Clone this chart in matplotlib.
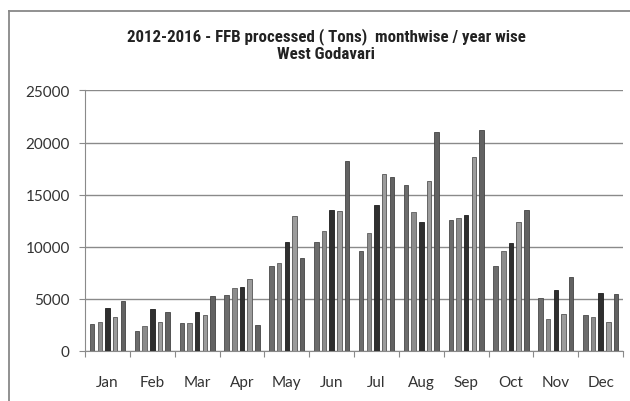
import numpy as np
import matplotlib.pyplot as plt
from matplotlib.lines import Line2D
from matplotlib import font_manager

# dades llegides del grafic (tones de FFB per mes i any)
months = ['Jan', 'Feb', 'Mar', 'Apr', 'May', 'Jun', 'Jul', 'Aug', 'Sep', 'Oct', 'Nov', 'Dec']
years = ['2012', '2013', '2014', '2015', '2016']
tons_2012 = [2600, 1950, 2690, 5350, 8140, 10480, 9580, 15900, 12560, 8200, 5130, 3430]
tons_2013 = [2760, 2370, 2690, 6030, 8490, 11470, 11310, 13300, 12720, 9550, 3040, 3270]
tons_2014 = [4100, 4000, 3750, 6120, 10420, 13490, 13970, 12340, 13010, 10320, 5900, 5540]
tons_2015 = [3270, 2790, 3430, 6920, 12950, 13430, 16960, 16350, 18620, 12370, 3530, 2790]
tons_2016 = [4800, 3780, 5290, 2530, 8880, 18270, 16730, 21060, 21250, 13560, 7080, 5480]

series = [tons_2012, tons_2013, tons_2014, tons_2015, tons_2016]
colors = ['#6c6c6c', '#8c8c8c', '#2f2f2f', '#9c9c9c', '#626262']
edges = ['#4a4a4a', '#5e5e5e', '#1e1e1e', '#555555', '#444444']

# font estreta per al titol si n'hi ha alguna
installed = {f.name for f in font_manager.fontManager.ttflist}
title_font = 'Liberation Sans'
title_size = 10.2
for cand in ['Liberation Sans Narrow', 'Roboto Condensed', 'Open Sans Condensed', 'DejaVu Sans Condensed']:
    if cand in installed:
        title_font = cand
        title_size = 12.2
        break

fig = plt.figure(figsize=(6.3, 4.02), dpi=100)
ax = fig.add_axes([0.135, 0.1244, 0.854, 0.648])

ind = np.arange(len(months))
width = 0.1
step = 0.171
for i, vals in enumerate(series):
    ax.bar(ind + (i - 2) * step, vals, width, color=colors[i], edgecolor=edges[i],
           linewidth=0.6, zorder=3)

ax.set_xlim(-0.5, 11.5)
ax.set_ylim(0, 25000)
ax.set_yticks(np.arange(0, 25001, 5000))
ax.grid(axis='y', color='#8a8a8a', linewidth=1.0, zorder=0)

# ticks entre mesos i etiquetes al centre
ax.set_xticks(np.arange(-0.5, 12, 1))
ax.set_xticklabels([])
ax.set_xticks(ind, minor=True)
ax.set_xticklabels(months, minor=True, fontsize=11, color='#333333', family=['Lato', 'DejaVu Sans'])
ax.tick_params(axis='x', which='major', length=4, color='#8a8a8a', direction='out')
ax.tick_params(axis='x', which='minor', length=0, pad=17)
ax.tick_params(axis='y', length=4, color='#8a8a8a', pad=7, labelsize=11, labelcolor='#333333')
for lab in ax.get_yticklabels():
    lab.set_family(['Lato', 'DejaVu Sans'])

for s in ['top', 'right']:
    ax.spines[s].set_visible(False)
ax.spines['left'].set_color('#8a8a8a')
ax.spines['bottom'].set_color('#8a8a8a')

# titol en dues linies, juntes com a l'original
fig.text(0.518, 1 - 41 / 402, '2012-2016 - FFB processed ( Tons)  monthwise / year wise',
         ha='center', va='baseline', fontsize=title_size, fontweight='bold', color='#222222',
         family=[title_font, 'DejaVu Sans'])
fig.text(0.518, 1 - 59 / 402, 'West Godavari',
         ha='center', va='baseline', fontsize=title_size, fontweight='bold', color='#222222',
         family=[title_font, 'DejaVu Sans'])

# marc exterior (retallat a la dreta i a baix)
fig.add_artist(Line2D([9 / 630, 9 / 630], [0, 1 - 12 / 402], transform=fig.transFigure,
                      color='#888888', linewidth=1.3))
fig.add_artist(Line2D([9 / 630, 1], [1 - 12 / 402, 1 - 12 / 402], transform=fig.transFigure,
                      color='#888888', linewidth=1.3))

fig.savefig('out.png', dpi=100)
